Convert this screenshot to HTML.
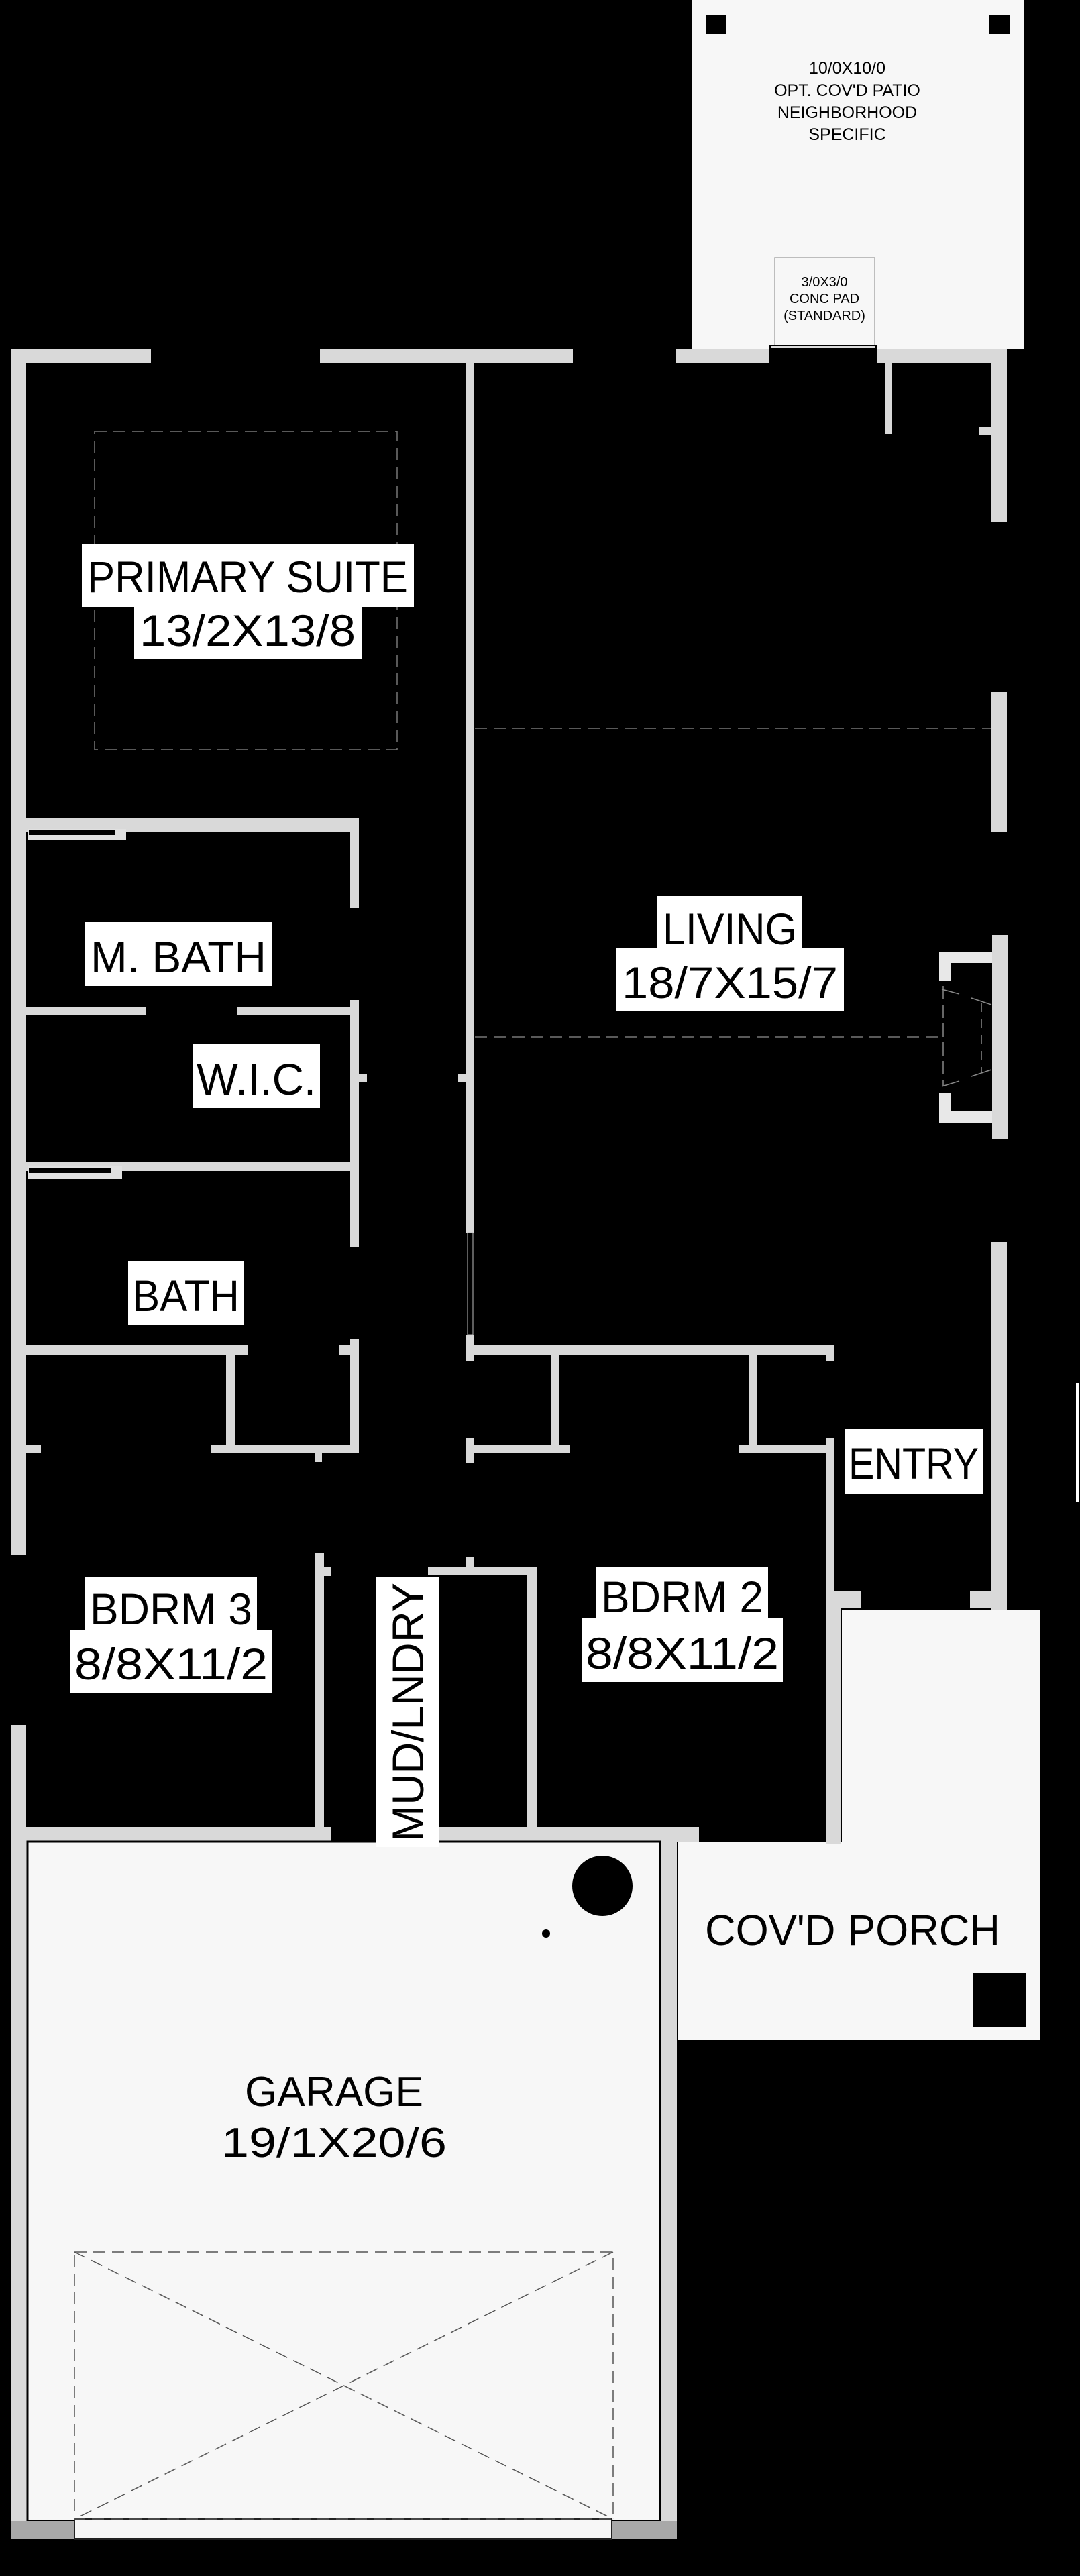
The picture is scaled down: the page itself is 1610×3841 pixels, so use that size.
<!DOCTYPE html>
<html><head><meta charset="utf-8"><style>
html,body{margin:0;padding:0;background:#000;}
svg{display:block;}
.w{fill:#d9d9d9;}
.lbl{font-family:"Liberation Sans",sans-serif;fill:#000;}
</style></head><body>
<svg width="1610" height="3841" viewBox="0 0 1610 3841" xmlns="http://www.w3.org/2000/svg">
<rect width="1610" height="3841" fill="#000"/>

<!-- Patio -->
<rect x="1032" y="0" width="494" height="520" fill="#f7f7f7"/>
<rect x="1052" y="22" width="31" height="29" fill="#000"/>
<rect x="1475" y="22" width="31" height="29" fill="#000"/>
<g class="lbl" font-size="25" text-anchor="middle">
<text x="1263" y="110">10/0X10/0</text>
<text x="1263" y="143">OPT. COV'D PATIO</text>
<text x="1263" y="176">NEIGHBORHOOD</text>
<text x="1263" y="209">SPECIFIC</text>
</g>
<rect x="1155" y="384" width="149" height="132" fill="none" stroke="#aaa" stroke-width="1.5"/>
<g class="lbl" font-size="20" text-anchor="middle">
<text x="1229" y="427">3/0X3/0</text>
<text x="1229" y="452">CONC PAD</text>
<text x="1229" y="477">(STANDARD)</text>
</g>

<!-- Top walls -->
<rect class="w" x="17" y="520" width="208" height="22"/>
<rect class="w" x="477" y="520" width="377" height="22"/>
<rect class="w" x="1007" y="520" width="139" height="22"/>
<rect class="w" x="1308" y="520" width="193" height="22"/>
<rect x="1146" y="514" width="162" height="6" fill="#000"/>
<rect x="1150" y="516" width="154" height="3" fill="#ddd"/>
<!-- small inner wall top right -->
<rect class="w" x="1320" y="542" width="10" height="105"/>
<rect class="w" x="1460" y="636" width="18" height="12"/>

<!-- Left wall -->
<rect class="w" x="17" y="520" width="22" height="1798"/>
<rect class="w" x="17" y="2572" width="22" height="1214"/>

<!-- Center vertical wall -->
<rect class="w" x="695" y="542" width="12" height="1296"/>
<rect x="697" y="1838" width="8" height="152" fill="#000" stroke="#bbb" stroke-width="1"/>
<rect class="w" x="695" y="1990" width="12" height="40"/>
<rect class="w" x="695" y="2144" width="12" height="38"/>
<rect class="w" x="695" y="2322" width="12" height="14"/>

<!-- Right wall -->
<rect class="w" x="1478" y="542" width="23" height="237"/>
<rect class="w" x="1478" y="1032" width="23" height="209"/>
<rect class="w" x="1479" y="1394" width="23" height="305"/>
<rect class="w" x="1478" y="1852" width="23" height="549"/>
<rect x="1604" y="2062" width="4" height="178" fill="#fff"/>

<!-- Primary suite dashed -->
<rect x="141" y="643" width="451" height="475" fill="none" stroke="#777" stroke-width="1.5" stroke-dasharray="18,10"/>
<!-- Living dashed lines -->
<line x1="708" y1="1086" x2="1478" y2="1086" stroke="#777" stroke-width="1.5" stroke-dasharray="18,10"/>
<line x1="708" y1="1546" x2="1400" y2="1546" stroke="#777" stroke-width="1.5" stroke-dasharray="18,10"/>

<!-- Fireplace -->
<path d="M1400 1419 H1479 V1436 H1418 V1463 H1400 Z M1400 1630 H1418 V1657 H1479 V1675 H1400 Z" fill="#e8e8e8"/>
<g stroke="#888" stroke-width="1.5" fill="none">
<line x1="1404" y1="1475" x2="1430" y2="1482"/><line x1="1448" y1="1488" x2="1478" y2="1498"/>
<line x1="1404" y1="1620" x2="1430" y2="1612"/><line x1="1448" y1="1605" x2="1478" y2="1595"/>
<line x1="1406" y1="1470" x2="1406" y2="1620" stroke-dasharray="20,8"/>
<line x1="1463" y1="1495" x2="1463" y2="1600" stroke-dasharray="14,10"/>
</g>

<!-- M.Bath / WIC / Bath -->
<rect class="w" x="39" y="1219" width="496" height="21"/>
<rect x="41" y="1236" width="147" height="16" fill="#e0e0e0"/>
<rect x="43" y="1238" width="128" height="7" fill="#000"/>
<rect class="w" x="522" y="1219" width="13" height="135"/>
<rect class="w" x="39" y="1502" width="178" height="12"/>
<rect class="w" x="354" y="1502" width="181" height="12"/>
<rect class="w" x="522" y="1491" width="13" height="368"/>
<rect class="w" x="535" y="1602" width="12" height="12"/>
<rect class="w" x="683" y="1602" width="12" height="12"/>
<rect class="w" x="39" y="1733" width="483" height="13"/>
<rect x="41" y="1739" width="141" height="19" fill="#e0e0e0"/>
<rect x="43" y="1742" width="122" height="7" fill="#000"/>
<rect class="w" x="39" y="2006" width="331" height="14"/>
<rect class="w" x="337" y="2020" width="14" height="147"/>
<rect class="w" x="314" y="2155" width="221" height="12"/>
<rect class="w" x="522" y="1997" width="13" height="170"/>
<rect class="w" x="506" y="2006" width="16" height="14"/>
<rect class="w" x="39" y="2155" width="22" height="12"/>
<rect class="w" x="470" y="2167" width="10" height="13"/>

<!-- Bdrm2 closets -->
<rect class="w" x="707" y="2006" width="537" height="14"/>
<rect class="w" x="1232" y="2006" width="12" height="24"/>
<rect class="w" x="821" y="2020" width="13" height="147"/>
<rect class="w" x="1117" y="2020" width="12" height="147"/>
<rect class="w" x="707" y="2155" width="143" height="12"/>
<rect class="w" x="1101" y="2155" width="143" height="12"/>
<rect class="w" x="1232" y="2144" width="12" height="606"/>

<!-- Bdrm3 / mud -->
<rect class="w" x="470" y="2316" width="13" height="430"/>
<rect class="w" x="483" y="2336" width="10" height="14"/>
<rect class="w" x="638" y="2337" width="163" height="12"/>
<rect class="w" x="785" y="2337" width="16" height="409"/>

<!-- Porch -->
<rect x="1255" y="2401" width="295" height="345" fill="#f7f7f7"/>
<rect x="1011" y="2746" width="539" height="296" fill="#f7f7f7"/>
<rect class="w" x="1232" y="2372" width="22" height="378"/>
<rect class="w" x="1232" y="2372" width="51" height="26"/>
<rect class="w" x="1446" y="2372" width="55" height="26"/>
<rect x="1450" y="2942" width="80" height="80" fill="#000"/>

<!-- Garage -->
<rect class="w" x="39" y="2724" width="454" height="22"/>
<rect class="w" x="654" y="2724" width="388" height="22"/>
<rect x="17" y="2746" width="992" height="1040" fill="#d9d9d9"/>
<rect x="41" y="2746" width="943" height="1013" fill="#f7f7f7" stroke="#000" stroke-width="3"/>
<rect x="111" y="3756" width="801" height="30" fill="#f7f7f7" stroke="#222" stroke-width="2"/>
<rect x="17" y="3759" width="94" height="27" fill="#a8a8a8"/>
<rect x="912" y="3759" width="97" height="27" fill="#a8a8a8"/>
<rect x="111" y="3358" width="803" height="398" fill="none" stroke="#555" stroke-width="1.5" stroke-dasharray="18,10"/>
<line x1="111" y1="3358" x2="914" y2="3756" stroke="#555" stroke-width="1.5" stroke-dasharray="18,10"/>
<line x1="914" y1="3358" x2="111" y2="3756" stroke="#555" stroke-width="1.5" stroke-dasharray="18,10"/>
<circle cx="898" cy="2812" r="45" fill="#000"/>
<circle cx="814" cy="2883" r="6" fill="#000"/>

<!-- Labels with white boxes -->
<rect x="122" y="811" width="495" height="94" fill="#fff"/>
<rect x="200" y="905" width="339" height="78" fill="#fff"/>
<text class="lbl" x="369" y="883" font-size="66" text-anchor="middle" textLength="478" lengthAdjust="spacingAndGlyphs">PRIMARY SUITE</text>
<text class="lbl" x="369" y="963" font-size="66" text-anchor="middle" textLength="322" lengthAdjust="spacingAndGlyphs">13/2X13/8</text>

<rect x="980" y="1336" width="216" height="78" fill="#fff"/>
<rect x="919" y="1414" width="339" height="94" fill="#fff"/>
<text class="lbl" x="1088" y="1408" font-size="66" text-anchor="middle" textLength="200" lengthAdjust="spacingAndGlyphs">LIVING</text>
<text class="lbl" x="1088" y="1488" font-size="66" text-anchor="middle" textLength="322" lengthAdjust="spacingAndGlyphs">18/7X15/7</text>

<rect x="127" y="1375" width="278" height="95" fill="#fff"/>
<text class="lbl" x="266" y="1450" font-size="66" text-anchor="middle" textLength="262" lengthAdjust="spacingAndGlyphs">M. BATH</text>

<rect x="287" y="1557" width="190" height="95" fill="#fff"/>
<text class="lbl" x="382" y="1632" font-size="66" text-anchor="middle" textLength="178" lengthAdjust="spacingAndGlyphs">W.I.C.</text>

<rect x="191" y="1880" width="173" height="95" fill="#fff"/>
<text class="lbl" x="277" y="1955" font-size="66" text-anchor="middle" textLength="160" lengthAdjust="spacingAndGlyphs">BATH</text>

<rect x="1259" y="2130" width="207" height="97" fill="#fff"/>
<text class="lbl" x="1362" y="2205" font-size="66" text-anchor="middle" textLength="194" lengthAdjust="spacingAndGlyphs">ENTRY</text>

<rect x="126" y="2352" width="257" height="78" fill="#fff"/>
<rect x="105" y="2430" width="300" height="94" fill="#fff"/>
<text class="lbl" x="255" y="2422" font-size="66" text-anchor="middle" textLength="242" lengthAdjust="spacingAndGlyphs">BDRM 3</text>
<text class="lbl" x="255" y="2504" font-size="66" text-anchor="middle" textLength="288" lengthAdjust="spacingAndGlyphs">8/8X11/2</text>

<rect x="888" y="2336" width="257" height="76" fill="#fff"/>
<rect x="868" y="2412" width="299" height="96" fill="#fff"/>
<text class="lbl" x="1017" y="2404" font-size="66" text-anchor="middle" textLength="242" lengthAdjust="spacingAndGlyphs">BDRM 2</text>
<text class="lbl" x="1017" y="2488" font-size="66" text-anchor="middle" textLength="288" lengthAdjust="spacingAndGlyphs">8/8X11/2</text>

<rect x="560" y="2352" width="94" height="402" fill="#fff"/>
<text class="lbl" transform="translate(631,2553) rotate(-90)" x="0" y="0" font-size="66" text-anchor="middle" textLength="386" lengthAdjust="spacingAndGlyphs">MUD/LNDRY</text>

<text class="lbl" x="1271" y="2900" font-size="64" text-anchor="middle" textLength="440" lengthAdjust="spacingAndGlyphs">COV'D PORCH</text>
<text class="lbl" x="498" y="3140" font-size="62" text-anchor="middle" textLength="266" lengthAdjust="spacingAndGlyphs">GARAGE</text>
<text class="lbl" x="498" y="3216" font-size="62" text-anchor="middle" textLength="336" lengthAdjust="spacingAndGlyphs">19/1X20/6</text>
</svg>
</body></html>
